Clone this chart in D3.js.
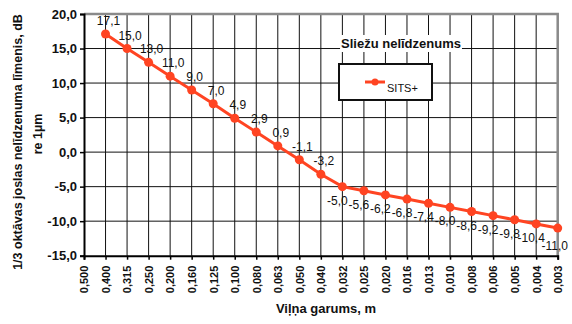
<!DOCTYPE html>
<html>
<head>
<meta charset="utf-8">
<script src="https://cdn.jsdelivr.net/npm/d3@7"></script>
<style>
  body { margin: 0; background: #fff; }
  text { font-family: "Liberation Sans", Arial, sans-serif; }
</style>
</head>
<body>
<div id="graph"></div>
<script>
// wavelength categories (m) and rail roughness levels (dB re 1µm)
let categories = ["0,500","0,400","0,315","0,250","0,200","0,160","0,125","0,100","0,080","0,063","0,050",
    "0,040","0,032","0,025","0,020","0,016","0,013","0,010","0,008","0,006","0,005","0,004","0,003"];
let sitsCats = categories.slice(1);
let sitsValues = [17.1, 15.0, 13.0, 11.0, 9.0, 7.0, 4.9, 2.9, 0.9, -1.1, -3.2,
    -5.0, -5.6, -6.2, -6.8, -7.4, -8.0, -8.6, -9.2, -9.8, -10.4, -11.0];
let yTicks = [-15, -10, -5, 0, 5, 10, 15, 20];

let width = 572, height = 324;
let margin = {left: 84, right: 14.3, top: 14, bottom: 68.3};
let color = "#ff4422";
let fmt = function(v) { return v.toFixed(1).replace(".", ","); };

let svg = d3.select("#graph")
    .append("svg")
    .attr("width", width)
    .attr("height", height);

let x = d3.scalePoint()
    .domain(categories)
    .range([margin.left, width - margin.right]);

let y = d3.scaleLinear()
    .domain([-15, 20])
    .range([height - margin.bottom, margin.top]);

// gridlines
let grid = svg.append("g");
grid.selectAll("line.v").data(categories.slice(1)).enter()
    .append("line")
    .attr("x1", d => x(d)).attr("x2", d => x(d))
    .attr("y1", y(20)).attr("y2", y(-15))
    .attr("stroke", "#111").attr("stroke-width", 1);
grid.selectAll("line.h").data(yTicks.slice(1)).enter()
    .append("line")
    .attr("x1", x(categories[0])).attr("x2", x(categories[categories.length - 1]))
    .attr("y1", d => y(d)).attr("y2", d => y(d))
    .attr("stroke", "#111").attr("stroke-width", 1);

// gray frame top / right
svg.append("path")
    .attr("d", `M${x(categories[0])},${y(20)}H${x(categories[categories.length - 1])}V${y(-15)}`)
    .attr("fill", "none").attr("stroke", "#8a8a8a").attr("stroke-width", 2.5);

// axes
let yAxis = svg.append("g")
    .attr("transform", `translate(${margin.left},0)`)
    .call(d3.axisLeft(y).tickValues(yTicks).tickSize(4).tickPadding(3).tickFormat(fmt));
let xAxis = svg.append("g")
    .attr("transform", `translate(0,${y(-15)})`)
    .call(d3.axisBottom(x).tickSize(4).tickPadding(0));

yAxis.select(".domain").attr("stroke", "#000").attr("stroke-width", 2);
xAxis.select(".domain").attr("stroke", "#000").attr("stroke-width", 2);
svg.selectAll(".tick line").attr("stroke", "#000").attr("stroke-width", 1.5);
yAxis.selectAll("text")
    .style("font-size", "13px").style("font-weight", "bold").attr("fill", "#111");
xAxis.selectAll("text")
    .attr("transform", "translate(0,10) rotate(-90)")
    .attr("x", 0).attr("y", 0).attr("dy", "0.35em")
    .style("text-anchor", "end")
    .style("font-size", "11px").style("font-weight", "bold").attr("fill", "#111");

// series line and markers
let line = d3.line()
    .x((d, i) => x(sitsCats[i]))
    .y(d => y(d));
svg.append("path")
    .datum(sitsValues)
    .attr("d", line)
    .attr("fill", "none").attr("stroke", color).attr("stroke-width", 3);
svg.selectAll("circle.pt").data(sitsValues).enter()
    .append("circle")
    .attr("cx", (d, i) => x(sitsCats[i]))
    .attr("cy", d => y(d))
    .attr("r", 4.5)
    .attr("fill", color);

// value labels: above the point on the steep part, below on the flat part
let last = sitsValues.length - 1;
svg.selectAll("text.lbl").data(sitsValues).enter()
    .append("text")
    .attr("x", (d, i) => x(sitsCats[i]) + (i <= 10 ? 3 : (i == last ? -3 : -5)))
    .attr("y", (d, i) => y(d) + (i <= 10 ? -9 : (i == last ? 22 : 18)))
    .style("text-anchor", "middle")
    .style("font-size", "12px")
    .attr("fill", "#111")
    .text(fmt);

// legend
let lg = svg.append("g");
let title = lg.append("text")
    .attr("x", 401).attr("y", 48)
    .style("text-anchor", "middle")
    .style("font-size", "13px").style("font-weight", "bold")
    .attr("fill", "#111")
    .text("Sliežu nelīdzenums");
let bb = title.node().getBBox();
lg.insert("rect", "text")
    .attr("x", bb.x - 1).attr("y", bb.y - 1)
    .attr("width", bb.width + 2).attr("height", bb.height + 2)
    .attr("fill", "#fff");
lg.append("rect")
    .attr("x", 339).attr("y", 64)
    .attr("width", 93).attr("height", 36)
    .attr("fill", "#fff").attr("stroke", "#111").attr("stroke-width", 2);
lg.append("line")
    .attr("x1", 365).attr("x2", 385).attr("y1", 82).attr("y2", 82)
    .attr("stroke", color).attr("stroke-width", 3);
lg.append("circle")
    .attr("cx", 375).attr("cy", 82).attr("r", 3.5).attr("fill", color);
lg.append("text")
    .attr("x", 387).attr("y", 92)
    .style("font-size", "11px")
    .attr("fill", "#111")
    .text("SITS+");

// axis titles
svg.append("text")
    .attr("transform", `translate(18,142) rotate(-90)`)
    .attr("dy", "0.35em")
    .style("text-anchor", "middle")
    .style("font-size", "12.5px").style("font-weight", "bold")
    .attr("fill", "#111")
    .text("1/3 oktāvas joslas nelīdzenuma līmenis, dB");
svg.append("text")
    .attr("transform", `translate(38,134) rotate(-90)`)
    .attr("dy", "0.35em")
    .style("text-anchor", "middle")
    .style("font-size", "12.5px").style("font-weight", "bold")
    .attr("fill", "#111")
    .text("re 1µm");
svg.append("text")
    .attr("x", 326).attr("y", 313)
    .style("text-anchor", "middle")
    .style("font-size", "13px").style("font-weight", "bold")
    .attr("fill", "#111")
    .text("Viļņa garums, m");
</script>
</body>
</html>
